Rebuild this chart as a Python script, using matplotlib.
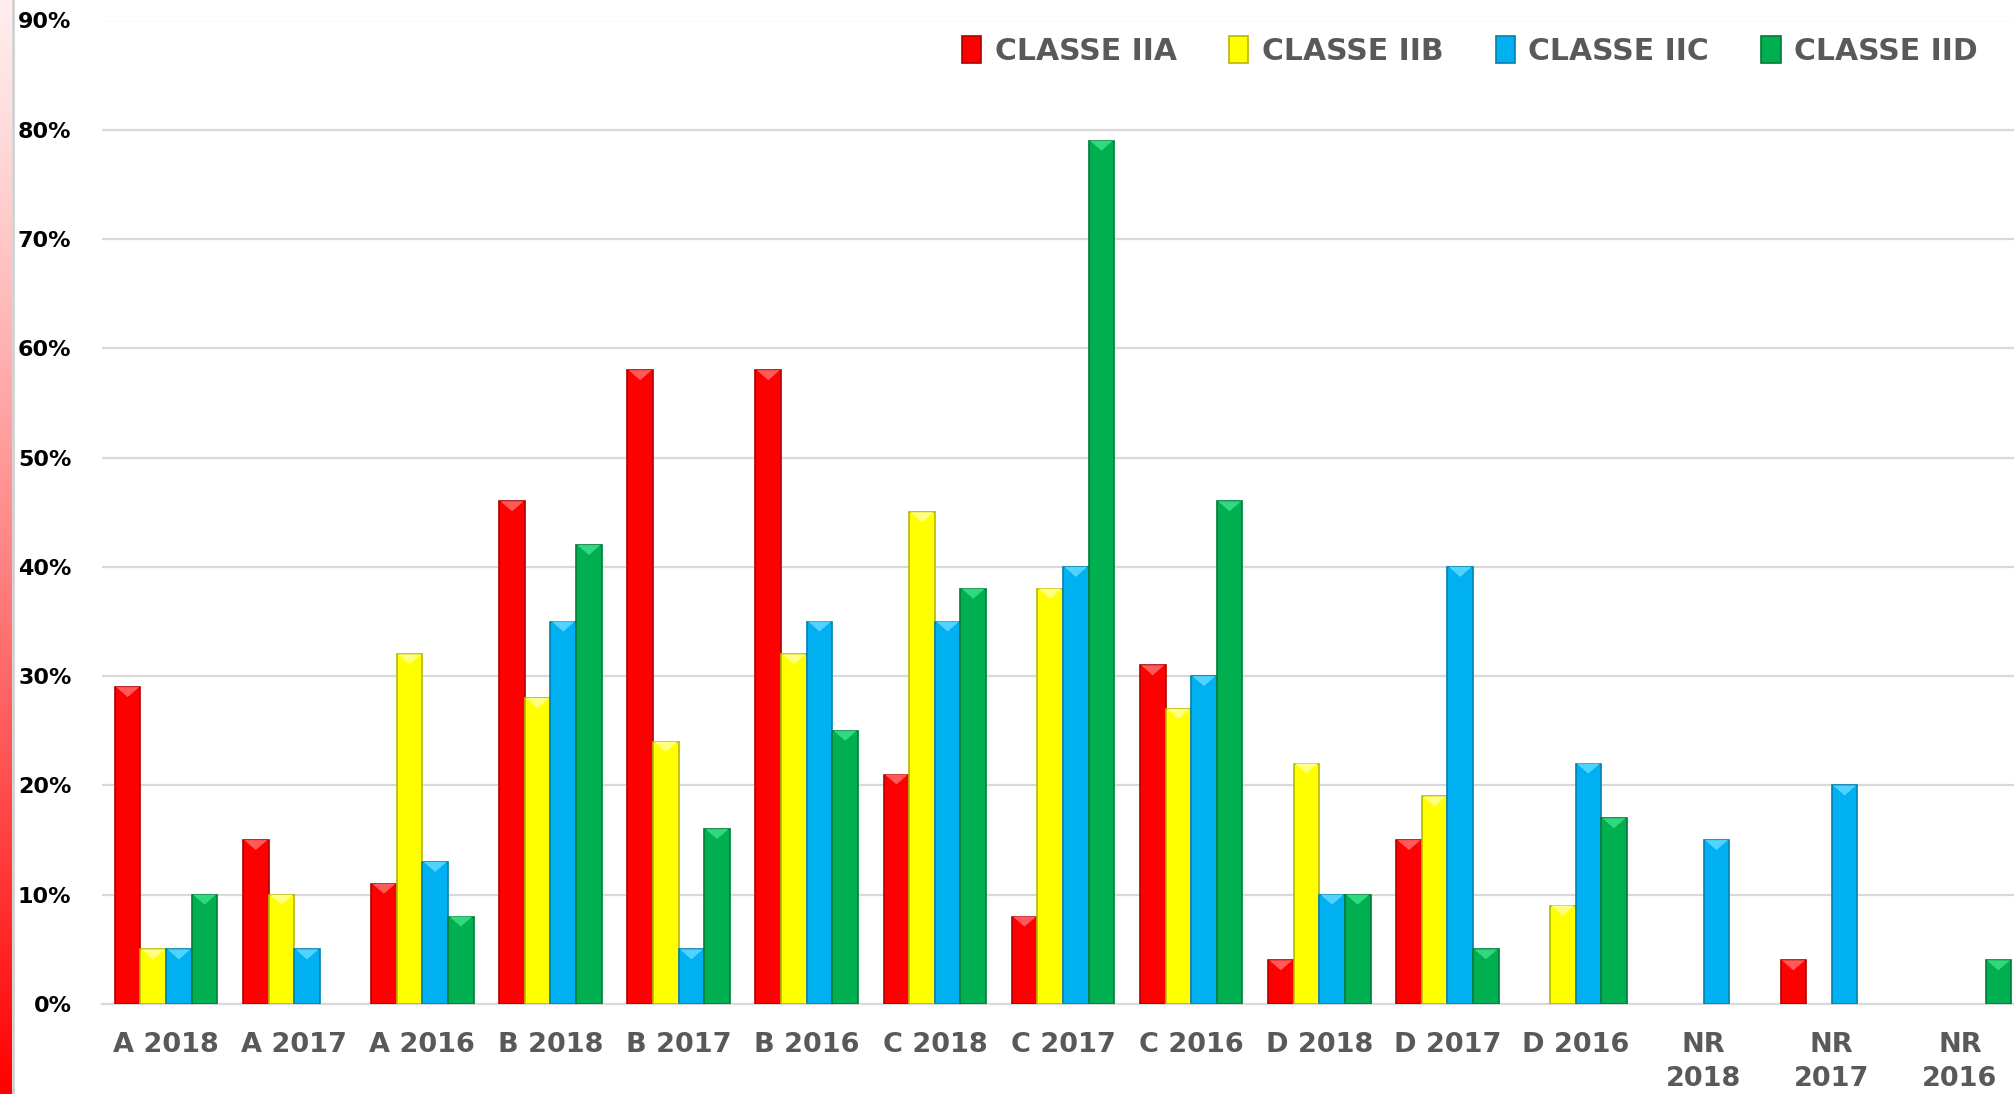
import numpy as np
import matplotlib
matplotlib.use("Agg")
import matplotlib.pyplot as plt
from matplotlib.patches import Polygon
from matplotlib.ticker import FuncFormatter

# data
categories = ["A 2018", "A 2017", "A 2016", "B 2018", "B 2017", "B 2016",
              "C 2018", "C 2017", "C 2016", "D 2018", "D 2017", "D 2016",
              "NR\n2018", "NR\n2017", "NR\n2016"]
series = ["CLASSE IIA", "CLASSE IIB", "CLASSE IIC", "CLASSE IID"]
classe_iia = [29, 15, 11, 46, 58, 58, 21, 8, 31, 4, 15, 0, 0, 4, 0]
classe_iib = [5, 10, 32, 28, 24, 32, 45, 38, 27, 22, 19, 9, 0, 0, 0]
classe_iic = [5, 5, 13, 35, 5, 35, 35, 40, 30, 10, 40, 22, 15, 20, 0]
classe_iid = [10, 0, 8, 42, 16, 25, 38, 79, 46, 10, 5, 17, 0, 0, 4]

colors = ["#FF0000", "#FFFF00", "#00B0F0", "#00B050"]
edges = ["#B00000", "#B8B800", "#0080B0", "#007A38"]
lights = ["#FF5A5A", "#FFFF80", "#50D4FF", "#30D880"]

W, H = 2015, 1094
fig = plt.figure(figsize=(W / 100, H / 100), dpi=100)

# red gradient strip on the left edge
strip = fig.add_axes([0, 0, 12 / W, 1])
t = np.linspace(0, 1, 256) ** 1.2
grad = np.ones((256, 1, 3))
grad[:, 0, 1] = 0.93 * (1 - t)
grad[:, 0, 2] = 0.93 * (1 - t)
strip.imshow(grad, aspect="auto", extent=[0, 1, 0, 1])
strip.axis("off")
fig.add_artist(plt.Line2D([13 / W, 13 / W], [0, 1], color="#D0D0D0", lw=2))

ax_h = 983.5
ax = fig.add_axes([102 / W, 90 / H, 1922 / W, ax_h / H])
x = np.arange(len(categories))
bw = 0.2
vals = [classe_iia, classe_iib, classe_iic, classe_iid]
tip = 10 / (ax_h / 0.9)  # highlight triangle depth, in data units
for i, (name, v) in enumerate(zip(series, vals)):
    v = np.array(v, dtype=float) / 100.0
    v[v == 0] = np.nan
    bars = ax.bar(x + (i - 1.5) * bw, v, width=bw, color=colors[i],
                  edgecolor=edges[i], linewidth=1.2, label=name, zorder=3)
    for b in bars:
        top = b.get_height()
        if not np.isfinite(top):
            continue
        x0, x1 = b.get_x(), b.get_x() + b.get_width()
        ax.add_patch(Polygon([[x0 + 0.01, top], [x1 - 0.01, top],
                              [(x0 + x1) / 2, top - tip]],
                             closed=True, color=lights[i], lw=0, zorder=4))

ax.set_xlim(-0.5, len(categories) - 0.5)
ax.set_ylim(0, 0.9)
ax.set_yticks(np.arange(0, 0.91, 0.1))
ax.yaxis.set_major_formatter(FuncFormatter(lambda v, p: f"{v * 100:.0f}%"))
ax.grid(axis="y", color="#D9D9D9", lw=1.6, zorder=0)
ax.set_axisbelow(True)
for s in ["top", "right", "left"]:
    ax.spines[s].set_visible(False)
ax.spines["bottom"].set_color("#D9D9D9")
ax.spines["bottom"].set_linewidth(1.6)

ax.set_xticks(x)
ax.set_xticklabels(categories, fontsize=19.5, fontweight="bold", color="#595959",
                   va="top", linespacing=1.4)
ax.tick_params(axis="x", length=0, pad=20)
ax.tick_params(axis="y", length=0, pad=22, labelsize=16)
for lab in ax.get_yticklabels():
    lab.set_fontweight("bold")
    lab.set_color("black")

leg = ax.legend(ncol=4, loc="upper right", bbox_to_anchor=(0.99, 1.012),
                frameon=False, handlelength=0.65, handleheight=1.05,
                handletextpad=0.45, columnspacing=1.75,
                prop={"size": 21.5, "weight": "bold"})
for txt in leg.get_texts():
    txt.set_color("#595959")

fig.savefig("out.png", dpi=100)
